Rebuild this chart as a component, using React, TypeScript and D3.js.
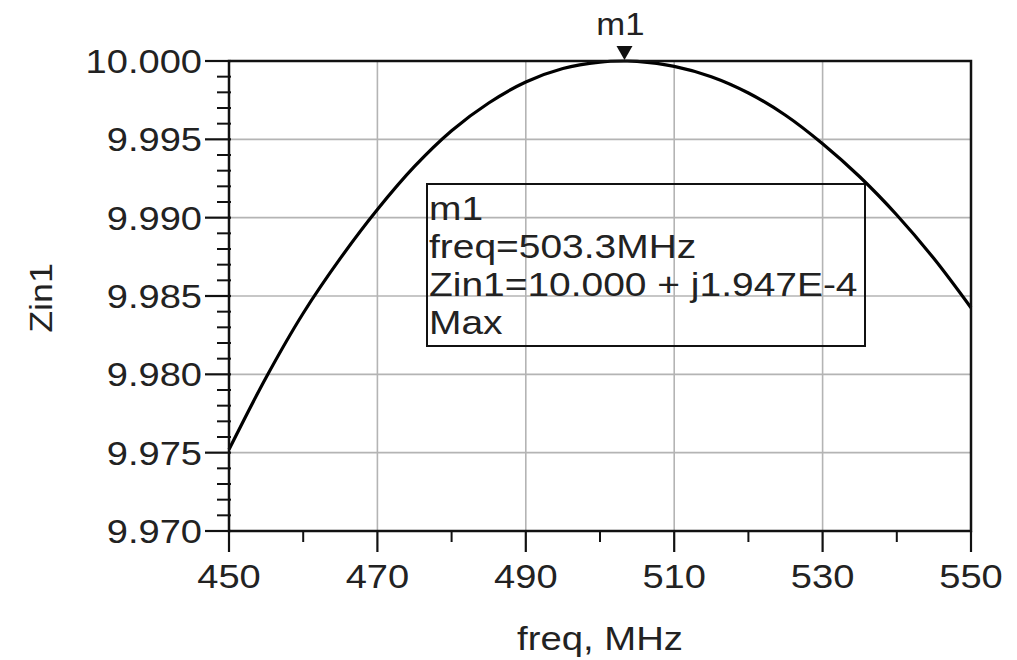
import React from "react";
import * as d3 from "d3";

const freqs = [450, 455, 460, 465, 470, 475, 480, 485, 490, 495, 500, 503.3, 505, 510, 515, 520, 525, 530, 535, 540, 545, 550];
const zin = [9.9752, 9.9798, 9.9839, 9.9874, 9.99052, 9.99327, 9.99555, 9.99732, 9.99866, 9.99952, 9.99993, 10.0, 9.99998, 9.99966, 9.9990, 9.99796, 9.99654, 9.99472, 9.99261, 9.99017, 9.98739, 9.98425];
const xTicks = [450, 470, 490, 510, 530, 550];
const xMinor = [460, 480, 500, 520, 540];
const yTicks = [9.97, 9.975, 9.98, 9.985, 9.99, 9.995, 10.0];
const markerFreq = 503.3;
const markerVal = 10.0;
const markerLines = ["m1", "freq=503.3MHz", "Zin1=10.000 + j1.947E-4", "Max"];

const W = 1017, H = 660;
const L = 229, R = 971, T = 61, B = 531;
const FONT = "Arial, 'Liberation Sans', sans-serif";

function T_({ x, y, size, anchor = "start", children, rotate = 0, sx = 1.12 }: any) {
  return (
    <text
      transform={`translate(${x},${y}) rotate(${rotate}) scale(${sx},1)`}
      fontSize={size}
      fontFamily={FONT}
      textAnchor={anchor}
      fill="#222"
    >
      {children}
    </text>
  );
}

export default function App() {
  const x = d3.scaleLinear().domain([450, 550]).range([L, R]);
  const y = d3.scaleLinear().domain([9.97, 10.0]).range([B, T]);
  const yMinor = d3.range(0, 31).map((i) => 9.97 + i * 0.001).filter((v) => !yTicks.some((t) => Math.abs(t - v) < 1e-7));
  const line = d3
    .line<number>()
    .x((_, i) => x(freqs[i]))
    .y((d) => y(d))
    .curve(d3.curveCatmullRom);
  const mx = x(markerFreq);
  const my = y(markerVal);

  return (
    <svg width={W} height={H} style={{ position: "absolute", left: 0, top: 0, background: "#fff" }}>
      <rect x={0} y={0} width={W} height={H} fill="#fff" />
      {/* grid */}
      {xTicks.slice(1, -1).map((t) => (
        <line key={"gx" + t} x1={x(t)} x2={x(t)} y1={T} y2={B} stroke="#b4b4b4" strokeWidth={1.6} />
      ))}
      {yTicks.slice(1, -1).map((t) => (
        <line key={"gy" + t} x1={L} x2={R} y1={y(t)} y2={y(t)} stroke="#b4b4b4" strokeWidth={1.6} />
      ))}
      {/* marker box */}
      <rect x={427} y={184} width={438} height={162} fill="none" stroke="#111" strokeWidth={2} />
      {markerLines.map((s, i) => (
        <T_ key={s} x={429} y={220 + i * 38} size={33} sx={1.18}>
          {s}
        </T_>
      ))}
      {/* curve */}
      <path d={line(zin) || ""} fill="none" stroke="#000" strokeWidth={3.2} />
      {/* frame */}
      <rect x={L} y={T} width={R - L} height={B - T} fill="none" stroke="#111" strokeWidth={2.5} />
      {/* y ticks */}
      {yTicks.map((t) => (
        <g key={"yt" + t}>
          <line x1={L - 24} x2={L + 2} y1={y(t)} y2={y(t)} stroke="#111" strokeWidth={2.2} />
          <T_ x={L - 27} y={y(t) + 12} size={34} anchor="end">
            {d3.format(".3f")(t)}
          </T_>
        </g>
      ))}
      {yMinor.map((t) => (
        <line key={"ym" + t} x1={L - 12} x2={L + 2} y1={y(t)} y2={y(t)} stroke="#111" strokeWidth={2} />
      ))}
      {/* x ticks */}
      {xTicks.map((t) => (
        <g key={"xt" + t}>
          <line x1={x(t)} x2={x(t)} y1={B} y2={B + 21} stroke="#111" strokeWidth={2.2} />
          <T_ x={x(t)} y={588} size={34} anchor="middle">
            {t}
          </T_>
        </g>
      ))}
      {xMinor.map((t) => (
        <line key={"xm" + t} x1={x(t)} x2={x(t)} y1={B} y2={B + 11} stroke="#111" strokeWidth={2} />
      ))}
      {/* axis titles */}
      <T_ x={(L + R) / 2} y={650} size={33} anchor="middle" sx={1.16}>
        freq, MHz
      </T_>
      <T_ x={52} y={298} size={32} anchor="middle" rotate={-90}>
        Zin1
      </T_>
      {/* marker */}
      <path d={`M${mx - 8},${my - 15} L${mx + 8},${my - 15} L${mx},${my - 1} Z`} fill="#111" />
      <T_ x={mx - 4} y={35} size={31} anchor="middle">
        m1
      </T_>
    </svg>
  );
}
